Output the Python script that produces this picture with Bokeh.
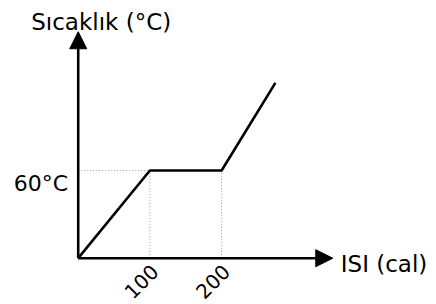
from bokeh.plotting import figure
from bokeh.models import Arrow, NormalHead, Range1d, ColumnDataSource
from bokeh.core.properties import value
from bokeh.embed import file_html
from bokeh.resources import INLINE
import math

# ---- data ----
heat = [0, 100, 200, 275]          # ISI (cal)
temp = [0, 60, 60, 120]            # Sıcaklık (°C)
x_ticks = [100, 200]
x_tick_labels = ["100", "200"]
y_ticks = [60]
y_tick_labels = ["60°C"]
x_title = "ISI (cal)"
y_title = "Sıcaklık (°C)"
x_axis_end = 355
y_axis_end = 155

FONT = value("DejaVu Sans")

p = figure(width=436, height=304, output_backend="svg", toolbar_location=None,
           x_range=Range1d(-108.4, 499.7), y_range=Range1d(-31.7, 176.4),
           x_axis_location=None, y_axis_location=None, min_border=0)
p.grid.visible = False
p.outline_line_color = None
p.background_fill_color = "white"
p.border_fill_color = "white"

# dotted guide lines at plateau
guide = ColumnDataSource(dict(
    xs=[[0, heat[1]], [heat[1], heat[1]], [heat[2], heat[2]]],
    ys=[[temp[1], temp[1]], [0, temp[1]], [0, temp[2]]],
))
p.multi_line("xs", "ys", source=guide, line_color="#9a9a9a", line_width=1, line_dash="1 2")

# heating curve
p.line(heat, temp, line_color="black", line_width=2.6)

# axes with arrow heads
p.add_layout(Arrow(end=NormalHead(size=17, fill_color="black", line_color="black"),
                   x_start=0, y_start=0, x_end=x_axis_end, y_end=0,
                   line_width=2.6, line_color="black"))
p.add_layout(Arrow(end=NormalHead(size=17, fill_color="black", line_color="black"),
                   x_start=0, y_start=0, x_end=0, y_end=y_axis_end,
                   line_width=2.6, line_color="black"))

# tick labels
p.text(x=x_ticks, y=[0] * len(x_ticks), text=x_tick_labels, angle=math.pi / 4,
       text_align="right", text_baseline="middle", x_offset=5, y_offset=10,
       text_font=FONT, text_font_size="20px", text_color="black")
p.text(x=[0] * len(y_ticks), y=y_ticks, text=y_tick_labels,
       text_align="right", text_baseline="alphabetic", x_offset=-10, y_offset=13,
       text_font=FONT, text_font_size="22px", text_color="black")

# axis titles
p.text(x=[x_axis_end], y=[0], text=[x_title], text_align="left", text_baseline="alphabetic",
       x_offset=8, y_offset=6, text_font=FONT, text_font_size="23px", text_color="black")
p.text(x=[0], y=[y_axis_end], text=[y_title], text_align="left", text_baseline="alphabetic",
       x_offset=-47, y_offset=-10, text_font=FONT, text_font_size="23px", text_color="black")

open("out.html", "w").write(file_html(p, INLINE))
